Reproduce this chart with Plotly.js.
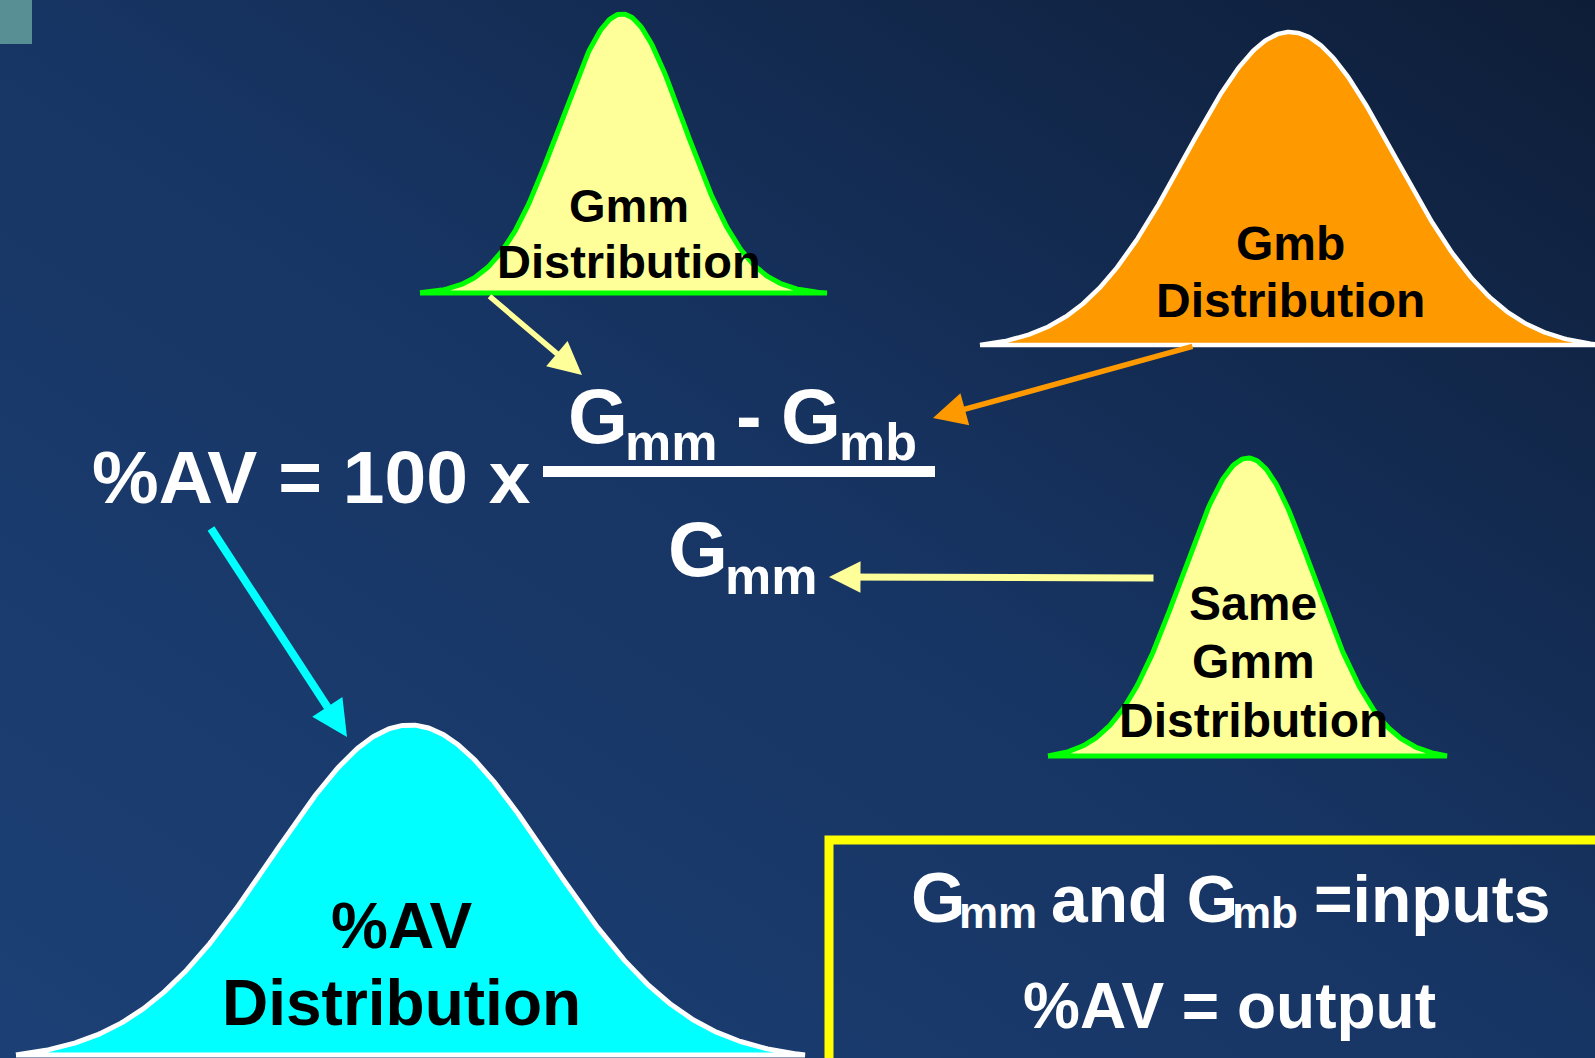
<!DOCTYPE html>
<html>
<head>
<meta charset="utf-8">
<script src="https://cdn.plot.ly/plotly-3.0.1.min.js"></script>
<style>
  html, body { margin: 0; padding: 0; width: 1595px; height: 1058px; overflow: hidden;
    background: linear-gradient(to top right, #1c4075 0%, #173564 50%, #0e1d37 100%); }
  #chart { width: 1595px; height: 1058px; }
</style>
</head>
<body>
<div id="chart"></div>
<script>
// ---- distributions: label lines and bell parameters (slide units, y grows downward) ----
const distLabels = [['Gmm', 'Distribution'], ['Gmb', 'Distribution'], ['Same', 'Gmm', 'Distribution'], ['%AV', 'Distribution']];
const distMean   = [622, 1290, 1248, 410];
const distSpread = [62, 105, 66, 138];
const distPeak   = [14, 32, 458, 725];
const distFloor  = [293, 345, 756, 1055];
const distFrom   = [420, 980, 1048, 16];
const distTo     = [827, 1600, 1447, 805];

// ---- formula text ----
const lhsText   = '%AV = 100 x';
const numTerms  = [['G', 'mm'], ['G', 'mb']];
const denTerm   = ['G', 'mm'];
const boxLine1  = [['G', 'mm'], ['and G', 'mb'], ['=inputs', '']];
const boxLine2  = '%AV = output';

// ---- styling & placement ----
const FONT = 'Liberation Sans, Arial, Helvetica, sans-serif';
const distStyle = [
  { fill: '#ffff99', edge: '#00ff00', w: 5,   size: 47, cx: 629,  base: [222, 278] },
  { fill: '#ff9900', edge: '#ffffff', w: 4.5, size: 48, cx: 1290, base: [260, 317] },
  { fill: '#ffff99', edge: '#00ff00', w: 5,   size: 48, cx: 1253, base: [620, 678, 737] },
  { fill: '#00ffff', edge: '#ffffff', w: 5,   size: 64, cx: 401,  base: [948, 1025] }
];

const traces = [];
distMean.forEach((mu, i) => {
  const s = distSpread[i], h = distFloor[i] - distPeak[i];
  const gEnd = Math.exp(-Math.pow(Math.max(mu - distFrom[i], distTo[i] - mu), 2) / (2 * s * s));
  const xs = [], ys = [];
  for (let x = distFrom[i]; x <= distTo[i]; x += 1.5) {
    const g = Math.exp(-Math.pow(x - mu, 2) / (2 * s * s));
    xs.push(x);
    ys.push(distFloor[i] - h * Math.max(0, (g - gEnd) / (1 - gEnd)));
  }
  xs.push(distTo[i], distFrom[i]);
  ys.push(distFloor[i], distFloor[i]);
  traces.push({
    type: 'scatter', mode: 'lines', x: xs, y: ys, fill: 'toself',
    fillcolor: distStyle[i].fill,
    line: { color: distStyle[i].edge, width: distStyle[i].w, shape: 'linear' },
    hoverinfo: 'skip', showlegend: false
  });
});

const ann = [];
function txt(t, cx, baseline, size, color) {
  ann.push({
    text: t, x: cx, y: baseline - 0.3465 * size, xref: 'x', yref: 'y',
    xanchor: 'center', yanchor: 'middle', showarrow: false,
    font: { family: FONT, size: size, color: color, weight: 700 },
    borderpad: 0
  });
}

// labels inside the bells
distLabels.forEach((lines, i) => {
  lines.forEach((l, k) => txt(l, distStyle[i].cx, distStyle[i].base[k], distStyle[i].size, '#000000'));
});

// left-hand side
txt(lhsText, 311, 503, 75, '#ffffff');
// numerator
txt(numTerms[0][0], 597.5, 443, 77, '#ffffff');
txt(numTerms[0][1], 671, 460, 52, '#ffffff');
txt('-', 748.5, 443, 77, '#ffffff');
txt(numTerms[1][0], 810.5, 443, 77, '#ffffff');
txt(numTerms[1][1], 878, 460, 52, '#ffffff');
// denominator
txt(denTerm[0], 697.5, 576, 77, '#ffffff');
txt(denTerm[1], 771, 594, 52, '#ffffff');

// boxed note
txt(boxLine1[0][0], 937.5, 922, 70, '#ffffff');
txt(boxLine1[0][1], 998, 928, 44, '#ffffff');
txt(boxLine1[1][0], 1144, 922, 66, '#ffffff');
txt(boxLine1[1][1], 1265, 928, 44, '#ffffff');
txt(boxLine1[2][0], 1432, 922, 66, '#ffffff');
txt(boxLine2, 1229, 1028, 64, '#ffffff');

// arrows: tail -> tip
const arrows = [
  { from: [488, 295],  to: [582, 375], w: 5.5, s: 1.2,  c: '#ffff99' },
  { from: [1194, 346], to: [933, 418], w: 5.5, s: 1.2,  c: '#ff9900' },
  { from: [1155, 578], to: [829, 577], w: 7,   s: 0.9,  c: '#ffff99' },
  { from: [210, 527],  to: [347, 737], w: 8,   s: 0.9,  c: '#00ffff' }
];
arrows.forEach(a => ann.push({
  x: a.to[0], y: a.to[1], ax: a.from[0], ay: a.from[1],
  xref: 'x', yref: 'y', axref: 'x', ayref: 'y', text: '',
  showarrow: true, arrowhead: 2, arrowsize: a.s, arrowwidth: a.w, arrowcolor: a.c,
  standoff: 0, startstandoff: 0
}));

const shapes = [
  // corner tab
  { type: 'rect', xref: 'x', yref: 'y', x0: 0, x1: 32, y0: 0, y1: 44,
    fillcolor: '#588f94', line: { width: 0 } },
  // fraction bar
  { type: 'rect', xref: 'x', yref: 'y', x0: 543, x1: 935, y0: 466, y1: 477,
    fillcolor: '#ffffff', line: { width: 0 } },
  // note frame
  { type: 'rect', xref: 'x', yref: 'y', x0: 829, x1: 1640, y0: 840, y1: 1100,
    fillcolor: 'rgba(0,0,0,0)', line: { color: '#ffff00', width: 9 } }
];

const layout = {
  width: 1595, height: 1058, autosize: false,
  margin: { l: 0, r: 0, t: 0, b: 0, pad: 0 },
  paper_bgcolor: 'rgba(0,0,0,0)', plot_bgcolor: 'rgba(0,0,0,0)',
  xaxis: { range: [0, 1595], visible: false, fixedrange: true },
  yaxis: { range: [1058, 0], visible: false, fixedrange: true },
  shapes: shapes, annotations: ann, showlegend: false, hovermode: false
};

Plotly.newPlot('chart', traces, layout, { staticPlot: true, displayModeBar: false });
</script>
</body>
</html>
